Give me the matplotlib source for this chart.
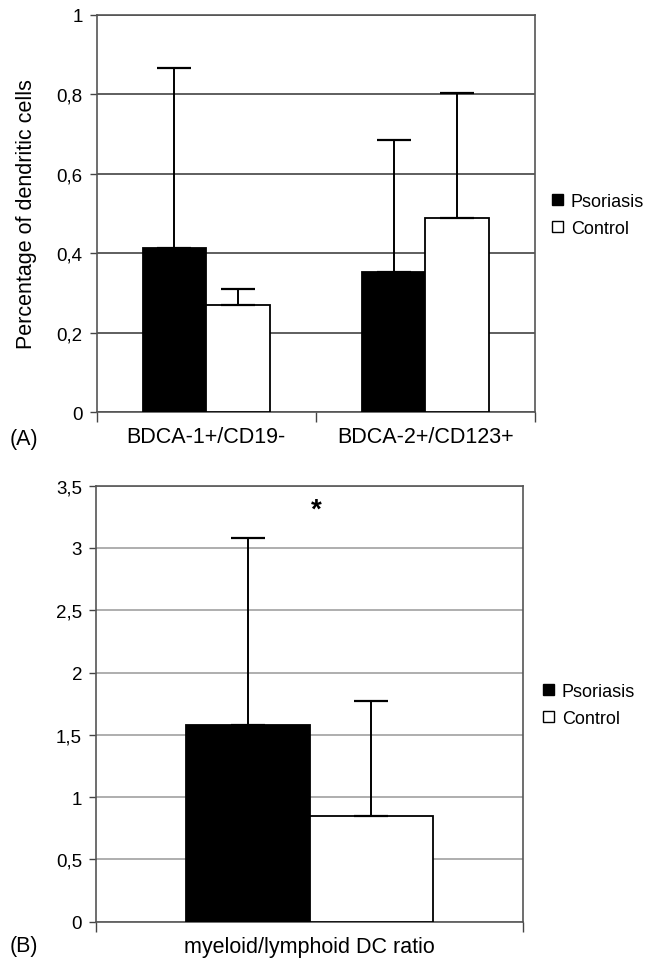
import matplotlib
matplotlib.use("Agg")
import matplotlib.pyplot as plt
from matplotlib.patches import Patch
from matplotlib.ticker import FuncFormatter

plt.rcParams["font.family"] = ["Liberation Sans", "DejaVu Sans"]

# panel A: dendritic cell subsets
groups_a = ["BDCA-1+/CD19-", "BDCA-2+/CD123+"]
psoriasis_a = [0.412, 0.352]
psoriasis_a_sd = [0.454, 0.333]
control_a = [0.270, 0.489]
control_a_sd = [0.040, 0.315]

# panel B: myeloid/lymphoid ratio
groups_b = ["myeloid/lymphoid DC ratio"]
psoriasis_b = [1.58]
psoriasis_b_sd = [1.50]
control_b = [0.846]
control_b_sd = [0.923]
star_level = 3.31

series_names = ["Psoriasis", "Control"]
TICK_FS = 13.5
LABEL_FS = 15.5
LEG_FS = 13
BAR_W = 0.29


def comma_fmt(v, _pos):
    s = f"{v:.1f}".rstrip("0").rstrip(".")
    return s.replace(".", ",")


def draw_panel(ax, groups, pso, pso_sd, ctl, ctl_sd, ymax, step, grid_color):
    xs = list(range(len(groups)))
    xp = [x - BAR_W / 2 for x in xs]
    xc = [x + BAR_W / 2 for x in xs]
    ekw = dict(elinewidth=1.4, capthick=1.6, capsize=12, ecolor="black")
    ax.bar(xp, pso, BAR_W, color="black", edgecolor="black", linewidth=1.3,
           yerr=[[0] * len(pso), pso_sd], error_kw=ekw, zorder=3)
    ax.bar(xc, ctl, BAR_W, color="white", edgecolor="black", linewidth=1.3,
           yerr=[[0] * len(ctl), ctl_sd], error_kw=ekw, zorder=3)
    ax.set_xlim(-0.5, len(groups) - 0.5)
    ax.set_ylim(0, ymax)
    n = int(round(ymax / step))
    ax.set_yticks([i * step for i in range(n + 1)])
    ax.yaxis.set_major_formatter(FuncFormatter(comma_fmt))
    ax.grid(axis="y", color=grid_color, linewidth=1.1, zorder=0)
    ax.set_axisbelow(True)
    # tick marks at the category boundaries, names in between
    ax.set_xticks([x - 0.5 for x in range(len(groups) + 1)])
    ax.set_xticklabels([])
    ax.set_xticks(xs, minor=True)
    ax.set_xticklabels(groups, minor=True, fontsize=LABEL_FS)
    ax.tick_params(axis="x", which="major", length=7, width=1, color="#444444")
    ax.tick_params(axis="x", which="minor", length=0, pad=10)
    ax.tick_params(axis="y", length=5, width=1, color="#444444",
                   labelsize=TICK_FS, pad=5)
    for sp in ax.spines.values():
        sp.set_color("#555555")
        sp.set_linewidth(1.2)


def add_legend(fig, x, y):
    handles = [Patch(facecolor="black", edgecolor="black"),
               Patch(facecolor="white", edgecolor="black")]
    fig.legend(handles, series_names, loc="center left", bbox_to_anchor=(x, y),
               frameon=False, fontsize=LEG_FS, handlelength=0.6, handleheight=0.6,
               handletextpad=0.45, labelspacing=0.55, borderpad=0, borderaxespad=0)


fig = plt.figure(figsize=(6.57, 9.62), dpi=100)
W, H = 657, 962

ax_a = fig.add_axes([96.5 / W, 1 - 413 / H, (535 - 96.5) / W, (413 - 16) / H])
draw_panel(ax_a, groups_a, psoriasis_a, psoriasis_a_sd, control_a, control_a_sd,
           1.0, 0.2, "#333333")
ax_a.set_ylabel("Percentage of dendritic cells", fontsize=LABEL_FS, labelpad=14)
add_legend(fig, 552 / W, 1 - 216 / H)
fig.text(10 / W, 1 - 439 / H, "(A)", fontsize=LABEL_FS, va="center")

ax_b = fig.add_axes([96 / W, 1 - 922.7 / H, (523 - 96) / W, (922.7 - 486.7) / H])
draw_panel(ax_b, groups_b, psoriasis_b, psoriasis_b_sd, control_b, control_b_sd,
           3.5, 0.5, "#999999")
ax_b.text(0.015, star_level, "*", fontsize=20, fontweight="bold",
          ha="center", va="center")
add_legend(fig, 543 / W, 1 - 706 / H)
fig.text(10 / W, 1 - 947 / H, "(B)", fontsize=LABEL_FS, va="center")

fig.savefig("out.png", dpi=100)
